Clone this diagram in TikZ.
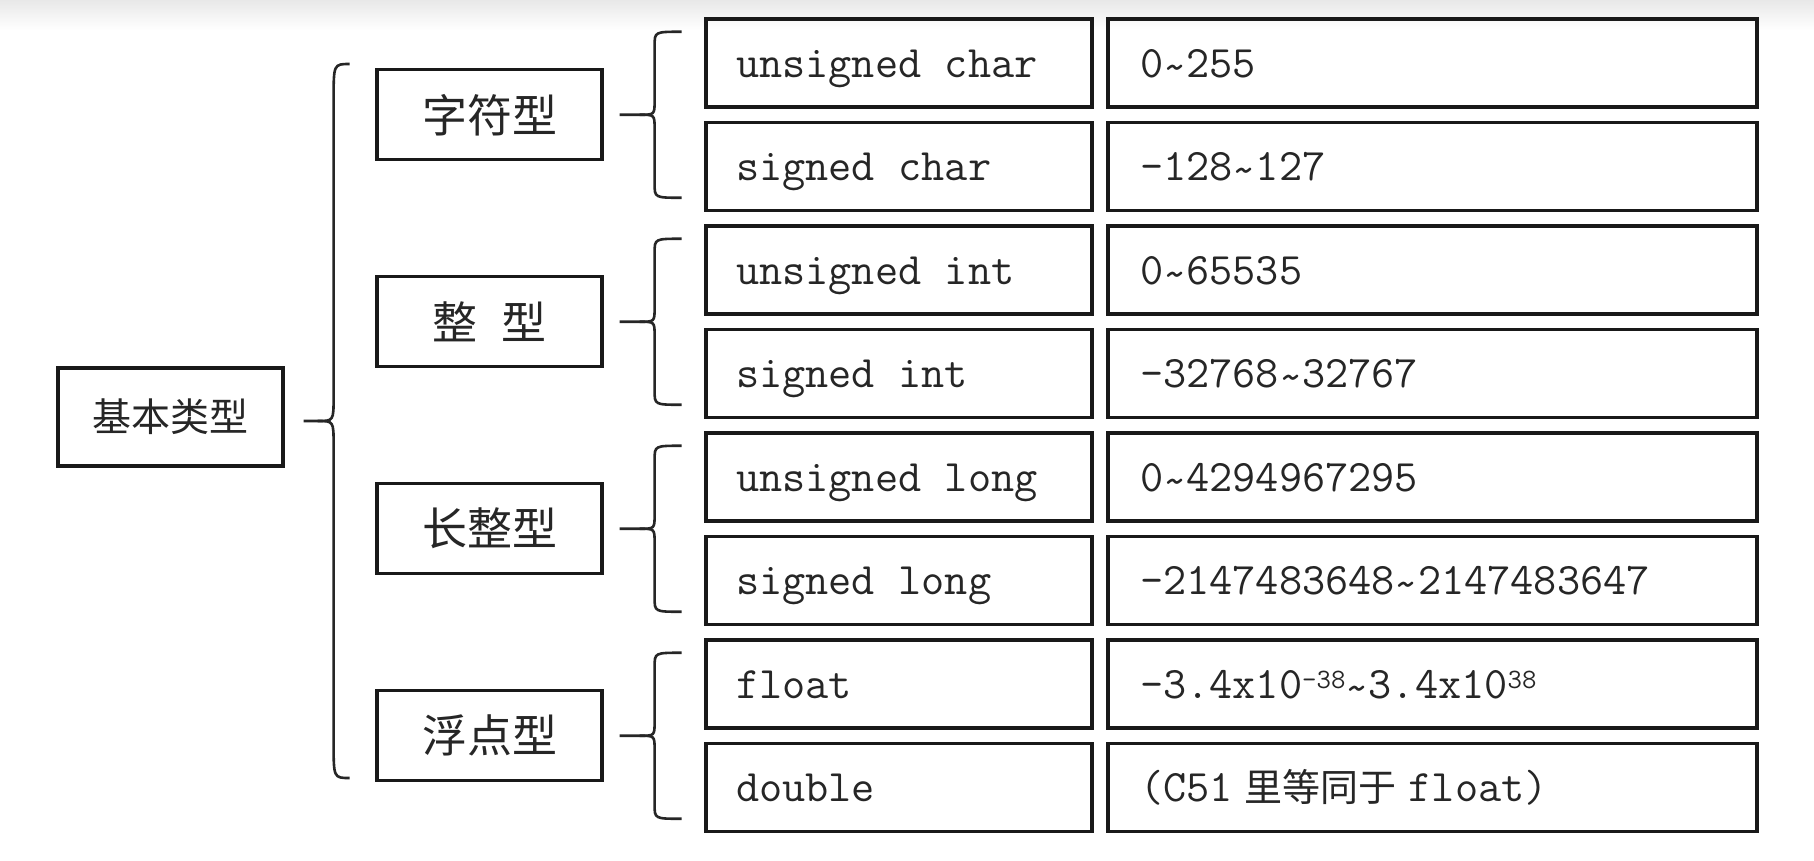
\documentclass[tikz,border=0pt]{standalone}
\usepackage{fontspec}
\newfontfamily\cjk{Noto Sans CJK SC}
\usetikzlibrary{calc}
\newcommand\tl{\raisebox{-4pt}{\textasciitilde}}
\newcommand\ms{\hspace*{0.525em}}
\newcommand\sps[1]{\raisebox{10pt}{\fontsize{28}{28}\selectfont #1}}
\newcommand\bracket[7]{%
  \draw[brc] ($(#1)+(#4,-#5)$) .. controls ($(#1)+(#3,-#5)$) .. ($(#1)+(#3,-#5+#6)$)
     -- ($(#1)+(#3,-#7)$) .. controls ($(#1)+(#3,0)$) .. ($(#1)+(#2,0)$) -- (#1);
  \draw[brc] ($(#1)+(#4,#5)$) .. controls ($(#1)+(#3,#5)$) .. ($(#1)+(#3,#5-#6)$)
     -- ($(#1)+(#3,#7)$) .. controls ($(#1)+(#3,0)$) .. ($(#1)+(#2,0)$);
}
\begin{document}
\begin{tikzpicture}[x=1pt,y=-1pt,
  box/.style={draw=black!90, line width=3.2pt, inner sep=0pt, text=black!85},
  colA/.style={box, text width=326pt, inner xsep=30pt, minimum height=88pt, align=left,
     text height=28pt, text depth=0pt, font=\ttfamily\fontsize{45}{45}\selectfont},
  colB/.style={colA, text width=585pt, inner xsep=32pt},
  lvl/.style={box, minimum width=225pt, minimum height=90pt, font=\cjk\fontsize{45}{45}\selectfont},
  brc/.style={draw=black!85, line width=2.6pt}]
\useasboundingbox (0,0) rectangle (1814,860);
\fill[white] (0,0) rectangle (1814,860);
\shade[top color=black!9, bottom color=white] (0,0) rectangle (1814,30);

\node[box, minimum width=225pt, minimum height=98pt, font=\cjk\fontsize{39}{39}\selectfont] (root) at (170.5,417) {基本类型};

\node[lvl] (k1) at (489.5,114.75) {字符型};
\node[lvl] (k2) at (489.5,321.75) {整\hspace{0.55em}型};
\node[lvl] (k3) at (489.5,528.75) {长整型};
\node[lvl] (k4) at (489.5,735.75) {浮点型};

\node[colA] (a1) at (899,63)    {unsigned\ms char};
\node[colA] (a2) at (899,166.5) {signed\ms char};
\node[colA] (a3) at (899,270)   {unsigned\ms int};
\node[colA] (a4) at (899,373.5) {signed\ms int};
\node[colA] (a5) at (899,477)   {unsigned\ms long};
\node[colA] (a6) at (899,580.5) {signed\ms long};
\node[colA] (a7) at (899,684)   {float};
\node[colA] (a8) at (899,787.5) {double};

\node[colB] (b1) at (1432.5,63)    {0\tl255};
\node[colB] (b2) at (1432.5,166.5) {-128\tl127};
\node[colB] (b3) at (1432.5,270)   {0\tl65535};
\node[colB] (b4) at (1432.5,373.5) {-32768\tl32767};
\node[colB] (b5) at (1432.5,477)   {0\tl4294967295};
\node[colB] (b6) at (1432.5,580.5) {-2147483648\tl2147483647};
\node[colB] (b7) at (1432.5,684)   {-3.4x10\sps{-38}\tl3.4x10\sps{38}};
\node[colB] (b8) at (1432.5,787.5) {(C51\hspace{12pt}{\cjk\fontsize{38}{38}\selectfont 里等同于}\hspace{12pt}float)};

% braces
\coordinate (t0) at ($(root.east)+(19,4)$);
\bracket{t0}{14}{30}{46}{357}{36}{24}
\foreach \k in {1,2,3,4}{
  \coordinate (t\k) at ($(k\k.east)+(16,0)$);
  \bracket{t\k}{20}{35}{62}{83}{14}{14}
}
\end{tikzpicture}
\end{document}
